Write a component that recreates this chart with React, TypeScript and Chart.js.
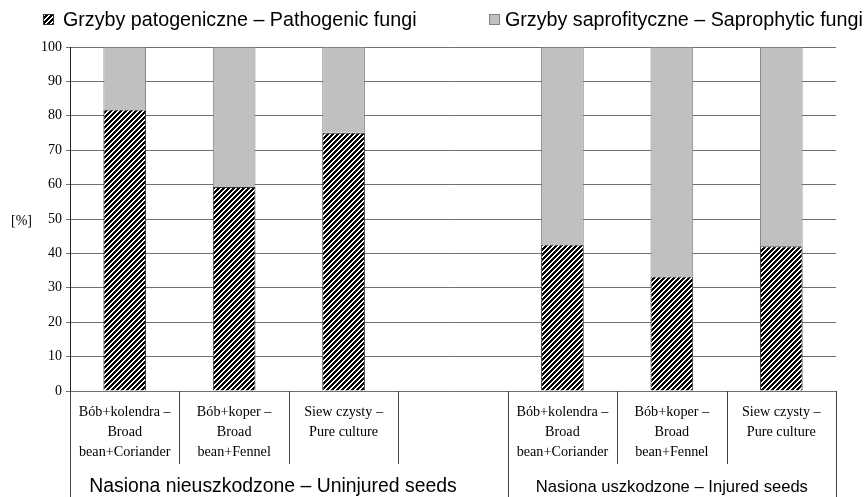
import { useEffect, useRef } from "react";
import { Chart, registerables } from "chart.js";

Chart.register(...registerables);

const categories: string[][] = [
  ["Bób+kolendra –", "Broad", "bean+Coriander"],
  ["Bób+koper –", "Broad", "bean+Fennel"],
  ["Siew czysty –", "Pure culture"],
  [""],
  ["Bób+kolendra –", "Broad", "bean+Coriander"],
  ["Bób+koper –", "Broad", "bean+Fennel"],
  ["Siew czysty –", "Pure culture"],
];
const pathogenic: (number | null)[] = [81.8, 59.3, 75.1, null, 42.6, 33.3, 42.1];
const saprophytic: (number | null)[] = [18.2, 40.7, 24.9, null, 57.4, 66.7, 57.9];
const seriesNames = [
  "Grzyby patogeniczne – Pathogenic fungi",
  "Grzyby saprofityczne – Saprophytic fungi",
];
const groupLabels = [
  "Nasiona nieuszkodzone – Uninjured seeds",
  "Nasiona uszkodzone – Injured seeds",
];
const groupStart = [0, 4];
const groupEnd = [4, 7];
const yMin = 0;
const yMax = 100;
const yStep = 10;
const yAxisLabel = "[%]";

function makeHatch(): CanvasPattern | string {
  const N = 5;
  const c = document.createElement("canvas");
  c.width = N;
  c.height = N;
  const g = c.getContext("2d");
  if (!g) return "#000";
  const img = g.createImageData(N, N);
  for (let y = 0; y < N; y++) {
    for (let x = 0; x < N; x++) {
      const black = (x + y) % N < 3;
      const v = black ? 0 : 255;
      const i = (y * N + x) * 4;
      img.data[i] = v;
      img.data[i + 1] = v;
      img.data[i + 2] = v;
      img.data[i + 3] = 255;
    }
  }
  g.putImageData(img, 0, 0);
  const p = g.createPattern(c, "repeat");
  return p || "#000";
}

export default function App() {
  const ref = useRef<HTMLCanvasElement | null>(null);

  useEffect(() => {
    document.body.style.margin = "0";
    const canvas = ref.current;
    if (!canvas) return;
    const hatch = makeHatch();
    const gray = "#c0c0c0";

    const overlay = {
      id: "overlay",
      afterDraw(chart: any) {
        const { ctx, chartArea } = chart;
        const left = chartArea.left;
        const right = chartArea.right;
        const bottom = chartArea.bottom;
        const n = categories.length;
        const w = (right - left) / n;
        ctx.save();
        // category separators
        ctx.strokeStyle = "#404040";
        ctx.lineWidth = 1;
        for (let i = 0; i <= n; i++) {
          const px = Math.round(left + i * w) + 0.5;
          const full = groupStart.includes(i) || groupEnd.includes(i);
          ctx.beginPath();
          ctx.moveTo(px, bottom);
          ctx.lineTo(px, full ? chart.height : 464);
          ctx.stroke();
        }
        // group labels
        ctx.fillStyle = "#000";
        ctx.textAlign = "center";
        ctx.textBaseline = "middle";
        const centers = [1.355, 5.0];
        const sizes = [19.4, 16.6];
        groupLabels.forEach((lab, gi) => {
          ctx.font = `${sizes[gi]}px "Liberation Sans", Arial, sans-serif`;
          const cx = left + (centers[gi] + 0.5) * w;
          ctx.fillText(lab, cx, 487);
        });
        // y axis label
        ctx.font = '14px "Liberation Serif", "Times New Roman", serif';
        ctx.textAlign = "left";
        const yScale = chart.scales.y;
        ctx.fillText(yAxisLabel, 11, yScale.getPixelForValue(50) + 2);
        // legend
        const boxes = [43, 489];
        const textX = [63, 505];
        const fills = [hatch, gray];
        const borders = ["#333", "#808080"];
        ctx.font = '19.7px "Liberation Sans", Arial, sans-serif';
        seriesNames.forEach((name, i) => {
          const bx = boxes[i];
          ctx.fillStyle = fills[i] as any;
          ctx.fillRect(bx, 14, 10, 10);
          ctx.strokeStyle = borders[i];
          ctx.strokeRect(bx + 0.5, 14.5, 10, 10);
          ctx.fillStyle = "#000";
          ctx.textAlign = "left";
          ctx.fillText(name, textX[i], 21);
        });
        ctx.restore();
      },
    };

    const chart = new Chart(canvas, {
      type: "bar",
      data: {
        labels: categories,
        datasets: [
          {
            label: seriesNames[0],
            data: pathogenic,
            backgroundColor: hatch as any,
            borderColor: "#333333",
            borderWidth: 1,
            barPercentage: 0.39,
            categoryPercentage: 1,
          },
          {
            label: seriesNames[1],
            data: saprophytic,
            backgroundColor: gray,
            borderColor: "#808080",
            borderWidth: 1,
            barPercentage: 0.39,
            categoryPercentage: 1,
          },
        ],
      },
      options: {
        responsive: false,
        animation: false,
        layout: { padding: { top: 47, right: 30, left: 0, bottom: 0 } },
        plugins: {
          legend: { display: false },
          tooltip: { enabled: false },
        },
        scales: {
          x: {
            stacked: true,
            grid: { display: false, drawTicks: false },
            border: { display: true, color: "#707070", width: 1 },
            ticks: {
              autoSkip: false,
              maxRotation: 0,
              minRotation: 0,
              padding: 11,
              color: "#000",
              font: { family: '"Liberation Serif", "Times New Roman", serif', size: 14.2, lineHeight: 1.41 },
            },
            afterFit: (scale: any) => {
              scale.height = 106;
            },
          },
          y: {
            stacked: true,
            min: yMin,
            max: yMax,
            grid: { color: "#707070", lineWidth: 1, drawTicks: true, tickLength: 4 },
            border: { display: true, color: "#222", width: 1 },
            ticks: {
              stepSize: yStep,
              padding: 4,
              color: "#000",
              font: { family: '"Liberation Serif", "Times New Roman", serif', size: 14 },
            },
            afterFit: (scale: any) => {
              scale.width = 70;
            },
          },
        },
      },
      plugins: [overlay],
    });
    return () => chart.destroy();
  }, []);

  return (
    <div style={{ width: 866, height: 497 }}>
      <canvas ref={ref} width={866} height={497} />
    </div>
  );
}
